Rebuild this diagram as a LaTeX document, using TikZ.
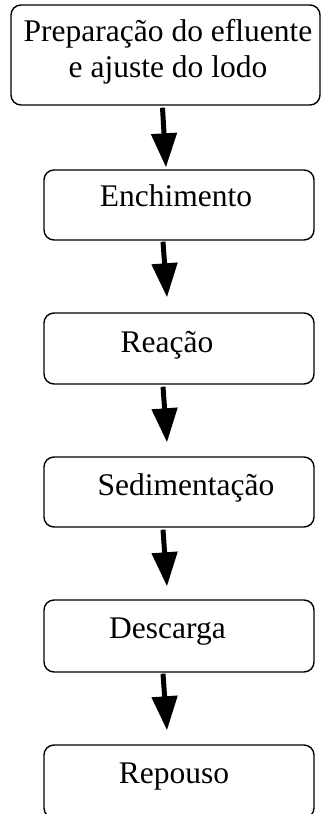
\documentclass[tikz,border=0pt]{standalone}
\usepackage{fontspec}
\setmainfont{Liberation Serif}
\usetikzlibrary{arrows.meta}
\begin{document}
\begin{tikzpicture}[x=1pt,y=-1pt,
  stepbox/.style={draw,line width=1.4pt,rounded corners=10pt,inner sep=0pt},
  lbl/.style={anchor=base,inner sep=0pt,font=\fontsize{31.5pt}{36pt}\selectfont},
  arr/.style={line width=5pt,-{Triangle[length=34pt,width=25pt]}}]
\path[use as bounding box] (0,0) rectangle (321,814);
\clip (0,0) rectangle (321,814);
\node[stepbox,minimum width=309pt,minimum height=100pt] (b1) at (165.5,55) {};
\node[stepbox,minimum width=270pt,minimum height=70pt] (b2) at (179,205) {};
\node[stepbox,minimum width=270pt,minimum height=71pt] (b3) at (179,348.5) {};
\node[stepbox,minimum width=270pt,minimum height=70pt] (b4) at (179,492) {};
\node[stepbox,minimum width=270pt,minimum height=72pt] (b5) at (179,636) {};
\node[stepbox,minimum width=270pt,minimum height=73pt] (b6) at (179,781.5) {};
\node[lbl] (t1a) at (168,41) {Preparação do efluente};
\node[lbl] (t1b) at (168,77) {e ajuste do lodo};
\node[lbl] (t2) at (176,206) {Enchimento};
\node[lbl] (t3) at (167,352) {Reação};
\node[lbl] (t4) at (186,495) {Sedimentação};
\node[lbl] (t5) at (167.5,638) {Descarga};
\node[lbl] (t6) at (174,783) {Repouso};
\draw[arr] ([xshift=-3pt,yshift=-2pt]b1.south) -- ([xshift=-13pt,yshift=2pt]b2.north);
\draw[arr] ([xshift=-16pt,yshift=-1pt]b2.south) -- ([xshift=-12pt,yshift=15pt]b3.north);
\draw[arr] ([xshift=-16pt,yshift=-2pt]b3.south) -- ([xshift=-12pt,yshift=14pt]b4.north);
\draw[arr] ([xshift=-16pt,yshift=-2pt]b4.south) -- ([xshift=-12pt,yshift=13pt]b5.north);
\draw[arr] ([xshift=-16pt,yshift=-1pt]b5.south) -- ([xshift=-12pt,yshift=14pt]b6.north);
\end{tikzpicture}
\end{document}
